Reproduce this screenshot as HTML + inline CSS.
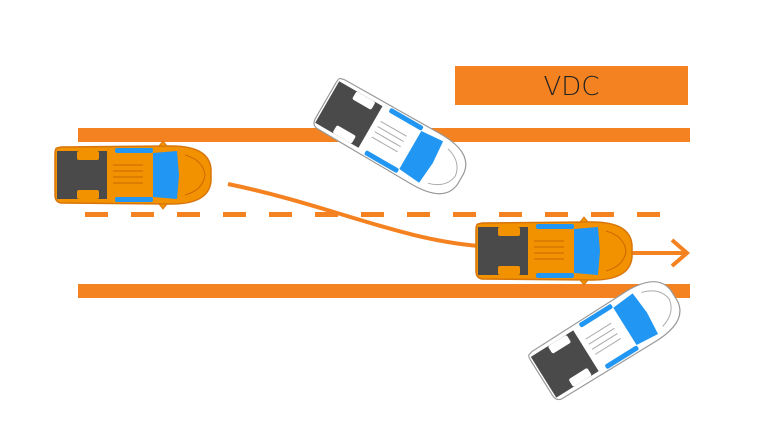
<!DOCTYPE html>
<html><head><meta charset="utf-8"><style>
html,body{margin:0;padding:0;background:#fff;}
svg{display:block;}
</style></head><body>
<svg width="770" height="440" viewBox="0 0 770 440" xmlns="http://www.w3.org/2000/svg">
<defs>
<g id="carO">
  <path d="M-76,-27 Q-78,-27 -78,-20 L-78,20 Q-78,27 -72,28 L35,29 Q76,30 78,6 L78,-6 Q76,-30 35,-29 L-72,-28 Z" fill="#f39200" stroke="#d8750a" stroke-width="1.5"/>
  <path d="M-76,-24 L-26,-24 L-26,24 L-76,24 Z" fill="#4a4a4a"/>
  <rect x="-56" y="-24" width="22" height="9" rx="2" fill="#f39200"/>
  <rect x="-56" y="15" width="22" height="9" rx="2" fill="#f39200"/>
  <path d="M20,-22 L44,-24 L46,0 L44,24 L20,22 Z" fill="#2196f3"/>
  <rect x="-18" y="-27" width="38" height="5" rx="2" fill="#2196f3"/>
  <rect x="-18" y="22" width="38" height="5" rx="2" fill="#2196f3"/>
  <g stroke="#c96a00" stroke-width="1" fill="none">
    <path d="M-20,-10 H10 M-20,-4 H10 M-20,2 H10 M-20,8 H10"/>
    <path d="M52,-20 Q70,-15 72,0 Q70,15 52,20"/>
  </g>
  <path d="M26,-29 L30,-34 L34,-29 Z M26,29 L30,34 L34,29 Z" fill="#f39200" stroke="#d8750a"/>
</g>
<g id="carW">
  <path d="M-76,-27 Q-78,-27 -78,-20 L-78,20 Q-78,27 -72,28 L35,29 Q76,30 78,6 L78,-6 Q76,-30 35,-29 L-72,-28 Z" fill="#fff" stroke="#999" stroke-width="1.2"/>
  <path d="M-76,-24 L-26,-24 L-26,24 L-76,24 Z" fill="#4a4a4a"/>
  <rect x="-56" y="-24" width="22" height="9" rx="2" fill="#fff"/>
  <rect x="-56" y="15" width="22" height="9" rx="2" fill="#fff"/>
  <path d="M20,-22 L44,-24 L46,0 L44,24 L20,22 Z" fill="#2196f3"/>
  <rect x="-18" y="-27" width="38" height="5" rx="2" fill="#2196f3"/>
  <rect x="-18" y="22" width="38" height="5" rx="2" fill="#2196f3"/>
  <g stroke="#aaa" stroke-width="1" fill="none">
    <path d="M-20,-10 H10 M-20,-4 H10 M-20,2 H10 M-20,8 H10"/>
    <path d="M52,-20 Q70,-15 72,0 Q70,15 52,20"/>
  </g>
</g>
</defs>
<rect x="455" y="66" width="233" height="39" fill="#f58220"/>
<text x="571.5" y="95" text-anchor="middle" font-family="DejaVu Sans, sans-serif" font-weight="200" font-size="26" fill="#222">VDC</text>
<rect x="78" y="128" width="612" height="14" fill="#f58220"/>
<rect x="78" y="284" width="612" height="14" fill="#f58220"/>
<line x1="85" y1="214.5" x2="665" y2="214.5" stroke="#f58220" stroke-width="5" stroke-dasharray="23,23"/>
<path d="M228,184 C330,205 400,240 480,246" fill="none" stroke="#f58220" stroke-width="4"/>
<line x1="628" y1="253" x2="686" y2="253" stroke="#f58220" stroke-width="4"/>
<path d="M672,240 L687,253 L672,266" fill="none" stroke="#f58220" stroke-width="4"/>
<use href="#carO" transform="translate(133,175)"/>
<use href="#carO" transform="translate(554,251)"/>
<use href="#carW" transform="translate(393,140) rotate(30)"/>
<use href="#carW" transform="translate(608,337) rotate(-32)"/>
</svg>
</body></html>
